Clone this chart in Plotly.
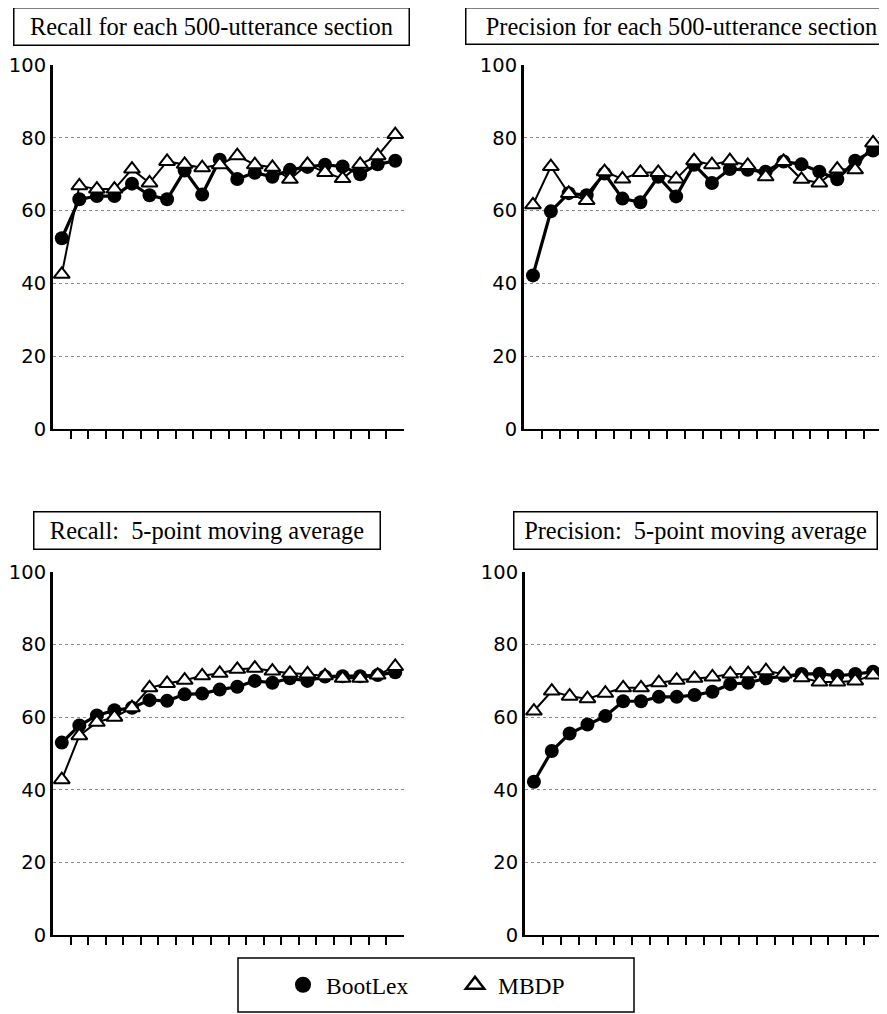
import plotly.graph_objects as go

sections = list(range(1, 21))

recall_bootlex = [52.4, 63.1, 64.0, 64.0, 67.4, 64.2, 63.1, 71.0, 64.4, 74.0,
                  68.7, 70.4, 69.3, 71.2, 72.0, 72.6, 72.1, 70.0, 72.7, 73.7]
recall_mbdp = [42.5, 66.8, 65.9, 65.9, 71.4, 67.6, 73.5, 72.7, 71.8, 72.6,
               75.1, 72.6, 71.9, 68.6, 72.7, 70.5, 68.8, 72.7, 75.1, 80.9]

precision_bootlex = [42.2, 59.8, 64.8, 64.2, 70.2, 63.3, 62.3, 69.3, 63.9, 72.6,
                     67.6, 71.4, 71.2, 70.7, 73.5, 72.7, 70.7, 68.6, 73.7, 76.5]
precision_mbdp = [61.6, 72.1, 64.7, 62.8, 70.7, 68.7, 70.5, 70.5, 68.7, 73.7,
                  72.6, 73.7, 72.4, 69.3, 73.5, 68.6, 67.6, 71.4, 71.2, 78.6]

recall_ma_bootlex = [53.0, 57.7, 60.5, 61.9, 62.6, 64.7, 64.5, 66.3, 66.5, 67.6,
                     68.4, 70.0, 69.5, 70.7, 70.0, 71.2, 71.3, 71.3, 71.6, 72.4]
recall_ma_mbdp = [42.8, 54.9, 58.6, 60.0, 62.6, 68.1, 69.3, 70.2, 71.4, 72.1,
                  73.2, 73.5, 72.7, 72.1, 71.9, 71.4, 70.7, 70.7, 71.6, 74.0]

precision_ma_bootlex = [42.2, 50.7, 55.5, 58.0, 60.3, 64.4, 64.4, 65.6, 65.6, 66.1,
                        67.0, 69.1, 69.5, 70.7, 71.4, 71.9, 72.0, 71.4, 71.9, 72.5]
precision_ma_mbdp = [61.7, 67.2, 65.8, 65.1, 66.6, 68.1, 68.1, 69.5, 70.2, 70.7,
                     71.1, 71.9, 72.0, 72.8, 71.9, 70.9, 69.7, 69.7, 70.0, 71.6]

panel_titles = ["Recall for each 500-utterance section",
                "Precision for each 500-utterance section",
                "Recall:&#160; 5-point moving average",
                "Precision:&#160; 5-point moving average"]
series_names = ["BootLex", "MBDP"]
y_ticks = [0, 20, 40, 60, 80, 100]

# page has an 8px body margin; figure sized to fit the window
OFF = 8
W, H = 887 - OFF, 1014 - OFF
def px(x):
    return (x - OFF) / W
def py(y):
    return 1 - (y - OFF) / H

panels = [
    (recall_bootlex, recall_mbdp, (53, 404), (65, 429)),
    (precision_bootlex, precision_mbdp, (524, 882), (65, 429)),
    (recall_ma_bootlex, recall_ma_mbdp, (53, 404), (572, 935)),
    (precision_ma_bootlex, precision_ma_mbdp, (525, 882), (572, 935)),
]

fig = go.Figure()
serif = "Liberation Serif"
sans = "DejaVu Sans"

for i, (b, m, xd, yd) in enumerate(panels):
    n = i + 1
    xa = "x" if n == 1 else f"x{n}"
    ya = "y" if n == 1 else f"y{n}"
    fig.add_trace(go.Scatter(
        x=sections, y=b, xaxis=xa, yaxis=ya, mode="lines+markers",
        name=series_names[0], showlegend=False,
        line=dict(color="black", width=3.2),
        marker=dict(symbol="circle", size=14, color="black"),
    ))
    fig.add_trace(go.Scatter(
        x=sections, y=m, xaxis=xa, yaxis=ya, mode="lines+markers",
        name=series_names[1], showlegend=False,
        line=dict(color="black", width=2),
        marker=dict(symbol="triangle-up", size=14, color="white",
                    line=dict(color="black", width=2)),
    ))
    xkey = "xaxis" if n == 1 else f"xaxis{n}"
    ykey = "yaxis" if n == 1 else f"yaxis{n}"
    fig.update_layout(**{
        xkey: dict(domain=[px(xd[0]), px(xd[1])], range=[0.5, 20.5],
                   anchor=ya, showgrid=False, zeroline=False, automargin=False,
                   showline=True, linecolor="black", linewidth=2,
                   tickmode="array", tickvals=[k + 0.5 for k in sections[:-1]],
                   ticktext=["" for _ in sections[:-1]],
                   ticks="outside", ticklen=8, tickwidth=2, tickcolor="black"),
        ykey: dict(domain=[py(yd[1]), py(yd[0])], range=[0, 100],
                   anchor=xa, showgrid=True, gridcolor="#8a8a8a", gridwidth=1,
                   griddash="dot", zeroline=False, automargin=False,
                   showline=True, linecolor="black", linewidth=3,
                   tickmode="array", tickvals=y_ticks,
                   ticktext=[str(t) for t in y_ticks],
                   ticks="", ticklabeloverflow="allow",
                   tickfont=dict(family=sans, size=19.5, color="black")),
    })

# legend-only entries (markers without line segments)
fig.add_trace(go.Scatter(
    x=[None], y=[None], mode="markers", name=series_names[0],
    marker=dict(symbol="circle", size=20, color="black"),
))
fig.add_trace(go.Scatter(
    x=[None], y=[None], mode="markers", name=series_names[1],
    marker=dict(symbol="triangle-up", size=20, color="white",
                line=dict(color="black", width=2.5)),
))

boxes = [
    (211, 26, 396, 38),
    (681, 26, 432, 37),
    (206.5, 530, 347, 38),
    (695, 530, 364, 38),
]
for title, (cx, cy, bw, bh) in zip(panel_titles, boxes):
    fig.add_annotation(
        text=title, x=px(cx), y=py(cy), xref="paper", yref="paper",
        xanchor="center", yanchor="middle", showarrow=False,
        width=bw - 4, height=bh - 4, borderpad=1,
        bordercolor="black", borderwidth=1.5, bgcolor="white",
        font=dict(family=serif, size=24.4, color="black"),
    )

fig.add_shape(type="rect", xref="paper", yref="paper",
              x0=px(238), x1=px(634), y0=py(1012), y1=py(958),
              line=dict(color="black", width=1.5))

fig.update_layout(
    width=W, height=H,
    margin=dict(l=0, r=0, t=0, b=0),
    paper_bgcolor="white", plot_bgcolor="white",
    showlegend=True,
    legend=dict(orientation="h", x=px(452), xanchor="center",
                y=py(985), yanchor="middle",
                font=dict(family=serif, size=23.5, color="black"),
                itemwidth=36,
                entrywidth=121, entrywidthmode="pixels",
                bgcolor="rgba(0,0,0,0)"),
)

fig.write_html("out.html")
